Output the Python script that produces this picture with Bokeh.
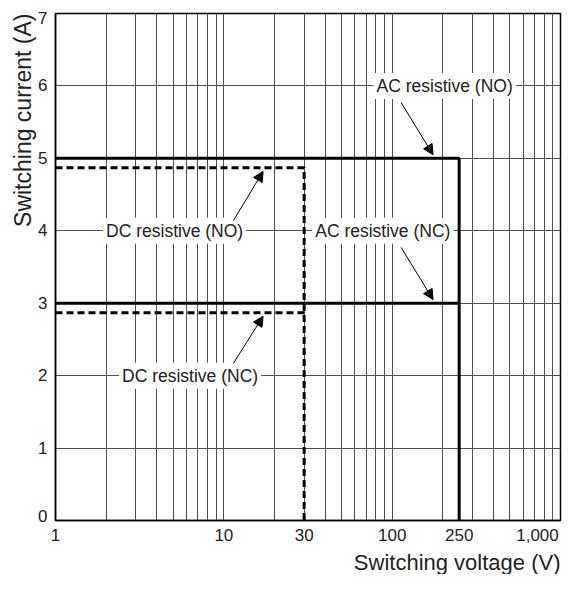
from bokeh.plotting import figure
from bokeh.models import FixedTicker, Title, Label, Arrow, NormalHead, Range1d
from bokeh.embed import file_html
from bokeh.resources import INLINE

# ---- data ----
NB = "\u00a0"
voltage_ticks = [1, 10, 30, 100, 250, 1000]
voltage_tick_labels = ["1", "10", "30", "100", "250", "1,000" + NB]
current_ticks = [0, 1, 2, 3, 4, 5, 6, 7]
current_tick_labels = ["0\n", "1", "2", "3", "4", "5", "6", "\n7"]
grid_voltages = [1, 2, 3, 4, 5, 6, 7, 8, 9,
                 10, 20, 30, 40, 50, 60, 70, 80, 90,
                 100, 200, 300, 400, 500, 600, 700, 800, 900, 1000]
grid_currents = [0, 1, 2, 3, 4, 5, 6, 7]

ac_no_v = [1, 250, 250]
ac_no_i = [5, 5, 0]
ac_nc_v = [1, 250]
ac_nc_i = [3, 3]
dc_no_v = [1, 30, 30]
dc_no_i = [4.87, 4.87, 0]
dc_nc_v = [1, 30]
dc_nc_i = [2.87, 2.87]

label_texts = ["AC resistive (NO)", "AC resistive (NC)", "DC resistive (NO)", "DC resistive (NC)"]
label_v = [205, 88, 5.1, 6.3]
label_i = [6, 4, 4, 2]
arrow_start_v = [113, 113, 11.4, 11.4]
arrow_start_i = [5.77, 3.77, 4.14, 2.17]
arrow_end_v = [175, 175, 17.1, 17.1]
arrow_end_i = [5.05, 3.05, 4.82, 2.82]

FONT = "Liberation Sans"
TXT = "#222222"

p = figure(width=563, height=574, x_axis_type="log",
           x_range=Range1d(1, 1000), y_range=Range1d(0, 7),
           output_backend="svg", toolbar_location=None,
           min_border_left=55, min_border_right=3,
           min_border_top=13, min_border_bottom=54)
p.background_fill_color = "white"
p.border_fill_color = "white"
p.outline_line_color = "black"
p.outline_line_width = 1.5

# axes
p.xaxis.ticker = FixedTicker(ticks=voltage_ticks)
p.xaxis.major_label_overrides = {t: l for t, l in zip(voltage_ticks, voltage_tick_labels)}
p.yaxis.ticker = FixedTicker(ticks=current_ticks)
p.yaxis.major_label_overrides = {t: l for t, l in zip(current_ticks, current_tick_labels)}
for ax in (p.xaxis, p.yaxis):
    ax.axis_line_color = "black"
    ax.axis_line_width = 1.5
    ax.major_tick_line_color = None
    ax.minor_tick_line_color = None
    ax.major_tick_out = 0
    ax.major_tick_in = 0
    ax.minor_tick_out = 0
    ax.minor_tick_in = 0
    ax.axis_label_standoff = 0
    ax.major_label_text_font = FONT
    ax.major_label_text_font_size = "17px"
    ax.major_label_text_color = TXT
p.xaxis.major_label_standoff = 5
p.yaxis.major_label_standoff = 8
p.yaxis.major_label_text_line_height = 0.45

# grids
p.xgrid.ticker = FixedTicker(ticks=grid_voltages)
p.ygrid.ticker = FixedTicker(ticks=grid_currents)
for g in (p.xgrid, p.ygrid):
    g.grid_line_color = "#505050"
    g.grid_line_width = 1
    g.grid_line_alpha = 1

# axis titles
p.add_layout(Title(text="Switching voltage (V)", align="right", text_font=FONT,
                   text_font_size="22px", text_font_style="normal",
                   text_color=TXT, offset=0, standoff=0), "below")
p.add_layout(Title(text="Switching current (A)", align="right", text_font=FONT,
                   text_font_size="23px", text_font_style="normal",
                   text_color=TXT, offset=0, standoff=0), "left")

# data lines
p.line(ac_no_v, ac_no_i, line_color="black", line_width=3)
p.line(ac_nc_v, ac_nc_i, line_color="black", line_width=3)
p.line(dc_no_v, dc_no_i, line_color="black", line_width=3, line_dash="7 4")
p.line(dc_nc_v, dc_nc_i, line_color="black", line_width=3, line_dash="7 4")

# annotations
for t, lv, li in zip(label_texts, label_v, label_i):
    p.add_layout(Label(x=lv, y=li, text=t, text_align="center", text_baseline="middle",
                       text_font=FONT, text_font_size="17.5px", text_color=TXT,
                       background_fill_color="white", padding=3))

for sv, si, ev, ei in zip(arrow_start_v, arrow_start_i, arrow_end_v, arrow_end_i):
    p.add_layout(Arrow(x_start=sv, y_start=si, x_end=ev, y_end=ei,
                       line_color="black", line_width=1,
                       end=NormalHead(size=10, fill_color="black", line_color="black")))

open("out.html", "w").write(file_html(p, INLINE))
